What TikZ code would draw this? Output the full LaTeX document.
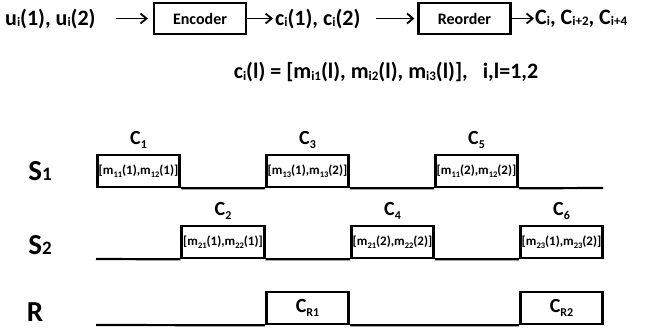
\documentclass[tikz,border=0pt]{standalone}
\usepackage{fontspec}
\setmainfont{Carlito}[BoldFont={Carlito Bold}]
\usetikzlibrary{arrows.meta,positioning}
\newcommand\subA[1]{\raisebox{-1.5pt}{\fontsize{13}{13}\selectfont #1}}
\newcommand\subB[1]{\raisebox{-4pt}{\fontsize{12}{12}\selectfont #1}}
\newcommand\subC[1]{\raisebox{-2.5pt}{\fontsize{8.5}{8.5}\selectfont #1}}
\newcommand\subD[1]{{\fontsize{19}{19}\selectfont #1}}
\begin{document}
\begin{tikzpicture}[x=1pt,y=-1pt,
  txt/.style={font=\fontsize{22}{24}\selectfont\bfseries, inner sep=0pt},
  blk/.style={draw, line width=2.2pt, minimum width=92pt, minimum height=31pt, inner sep=0pt, font=\fontsize{16}{18}\selectfont\bfseries},
  slot/.style={draw, line width=2.6pt, minimum width=82.5pt, minimum height=32pt, inner sep=0pt, font=\fontsize{13}{14}\selectfont\bfseries},
  clab/.style={font=\fontsize{20}{20}\selectfont\bfseries, inner sep=0pt},
  rowlab/.style={font=\fontsize{29}{29}\selectfont\bfseries, inner sep=0pt},
  arr/.style={-{Straight Barb[length=6pt,width=10pt,line width=1.8pt]}, line width=1.8pt},
  tl/.style={line width=2.2pt}]
\useasboundingbox (0,0) rectangle (647,333);
% top row
\node[txt, anchor=west] (u) at (5,18.5) {u\subA{i}(1), u\subA{i}(2)};
\node[blk] (enc) at (200,18.5) {Encoder};
\node[txt, anchor=west] (c12) at (275,18.5) {c\subA{i}(1), c\subA{i}(2)};
\node[blk] (reo) at (464.5,18.5) {Reorder};
\node[txt, anchor=west] (cc) at (535,18.5) {C\subA{i}, C\subA{i+2}, C\subA{i+4}};
\draw[arr, shorten <=20pt, shorten >=5pt] (u.east) -- (enc.west);
\draw[arr, shorten >=2pt] (enc.east) -- (c12.west);
\draw[arr, shorten <=15pt, shorten >=3pt] (c12.east) -- (reo.west);
\draw[arr, shorten >=1pt] (reo.east) -- (cc.west);
% definition line
\node[txt] (def) at (386,72) {c\subA{i}(l) = [m\subA{i1}(l), m\subA{i2}(l), m\subA{i3}(l)],\ \ \ i,l=1,2};
% row labels
\node[rowlab] (s1) at (40,171) {S\subD{1}};
\node[rowlab] (s2) at (40,245) {S\subD{2}};
\node[rowlab] (r) at (35,312) {R};
% S1 row
\node[slot] (c1) at (138.5,171) {[m\subC{11}(1),m\subC{12}(1)]};
\node[slot] (c3) at (307.5,171) {[m\subC{13}(1),m\subC{13}(2)]};
\node[slot] (c5) at (476.5,171) {[m\subC{11}(2),m\subC{12}(2)]};
\coordinate (e1) at (603,188);
\draw[tl] (c1.south east) -- (c3.south west) (c3.south east) -- (c5.south west) (c5.south east) -- (e1);
\node[clab, above=5pt of c1] (l1) {C\subB{1}};
\node[clab, above=5pt of c3] (l3) {C\subB{3}};
\node[clab, above=5pt of c5] (l5) {C\subB{5}};
% S2 row
\node[slot] (c2) at (223,242) {[m\subC{21}(1),m\subC{22}(1)]};
\node[slot] (c4) at (392.5,242) {[m\subC{21}(2),m\subC{22}(2)]};
\node[slot] (c6) at (561.5,242) {[m\subC{23}(1),m\subC{23}(2)]};
\coordinate (b2) at (96,259);
\draw[tl] (b2) -- (c2.south west) (c2.south east) -- (c4.south west) (c4.south east) -- (c6.south west);
\node[clab, above=5pt of c2] (l2) {C\subB{2}};
\node[clab, above=5pt of c4] (l4) {C\subB{4}};
\node[clab, above=5pt of c6] (l6) {C\subB{6}};
% R row
\node[slot, font=\fontsize{20}{20}\selectfont\bfseries] (r1) at (307.5,308) {C\subB{R1}};
\node[slot, font=\fontsize{20}{20}\selectfont\bfseries] (r2) at (561.5,308) {C\subB{R2}};
\coordinate (b3) at (96,325);
\draw[tl] (b3) -- (r1.south west) (r1.south east) -- (r2.south west);
\end{tikzpicture}
\end{document}
